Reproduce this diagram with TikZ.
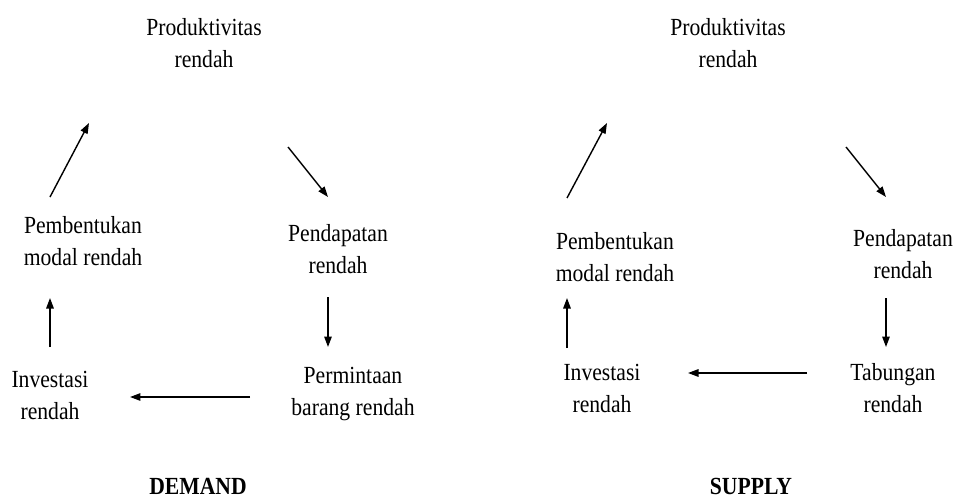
\documentclass[tikz,border=0pt]{standalone}
\usepackage{fontspec}
\setmainfont{Liberation Serif}
\usetikzlibrary{arrows.meta}
\begin{document}
\begin{tikzpicture}[x=0.02cm,y=-0.02cm,
  txt/.style={align=center,inner sep=0pt,xscale=0.88,transform shape,font=\fontsize{14}{18.2}\selectfont},
  ttl/.style={inner sep=0pt,xscale=0.88,transform shape,font=\fontsize{14}{18.2}\selectfont\bfseries},
  arr/.style={-{Triangle[length=2.1mm,width=1.5mm]},line width=0.8pt}]
\useasboundingbox (0,0) rectangle (957,497);
% demand side
\node[txt] (dprod) at (204,43) {Produktivitas\\rendah};
\node[txt] (dmod) at (83,241) {Pembentukan\\modal rendah};
\node[txt] (dpend) at (338,249) {Pendapatan\\rendah};
\node[txt] (dinv) at (50,395) {Investasi\\rendah};
\node[txt] (dperm) at (353,394) {Permintaan\\barang rendah};
\node[ttl] (dem) at (198,486) {DEMAND};
\coordinate (d1a) at (50,197);  \coordinate (d1b) at (89,123);
\coordinate (d2a) at (288,147); \coordinate (d2b) at (328,197);
\coordinate (d3a) at (328,297); \coordinate (d3b) at (328,347);
\coordinate (d4a) at (250,397); \coordinate (d4b) at (130,397);
\coordinate (d5a) at (50,347);  \coordinate (d5b) at (50,298);
\draw[arr] (d1a) -- (d1b);
\draw[arr] (d2a) -- (d2b);
\draw[arr] (d3a) -- (d3b);
\draw[arr] (d4a) -- (d4b);
\draw[arr] (d5a) -- (d5b);
% supply side
\node[txt] (sprod) at (728,43) {Produktivitas\\rendah};
\node[txt] (smod) at (615,257) {Pembentukan\\modal rendah};
\node[txt] (spend) at (903,254) {Pendapatan\\rendah};
\node[txt] (sinv) at (602,388) {Investasi\\rendah};
\node[txt] (stab) at (893,388) {Tabungan\\rendah};
\node[ttl] (sup) at (751,486) {SUPPLY};
\coordinate (s1a) at (567,198); \coordinate (s1b) at (607,123);
\coordinate (s2a) at (846,147); \coordinate (s2b) at (886,197);
\coordinate (s3a) at (886,298); \coordinate (s3b) at (886,347);
\coordinate (s4a) at (807,373); \coordinate (s4b) at (688,373);
\coordinate (s5a) at (567,348); \coordinate (s5b) at (567,298);
\draw[arr] (s1a) -- (s1b);
\draw[arr] (s2a) -- (s2b);
\draw[arr] (s3a) -- (s3b);
\draw[arr] (s4a) -- (s4b);
\draw[arr] (s5a) -- (s5b);
\end{tikzpicture}
\end{document}
